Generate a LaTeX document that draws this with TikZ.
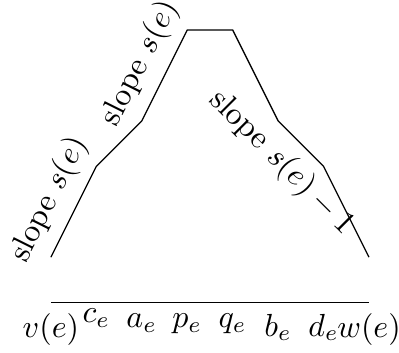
\documentclass[tikz,border=0pt]{standalone}
\usepackage{amsmath,amssymb}
\usepackage{tikz}
\usetikzlibrary{calc}

\begin{document}
\begin{tikzpicture}[x=0.5cm,y=0.5cm]
        % Ламана: нахили 2, 1, 2, 0, -2, -1, -2.
        % Вісь на висоті -1.
        \useasboundingbox (-1.12,-2.09) rectangle (7.66,5.66);

        \coordinate (V) at (0,0);
        \coordinate (C) at (1,2);
        \coordinate (A) at (2,3);
        \coordinate (P) at (3,5);
        \coordinate (Q) at (4,5);
        \coordinate (B) at (5,3);
        \coordinate (D) at (6,2);
        \coordinate (W) at (7,0);

        \draw (V) -- node[sloped,above] (s1) {slope $s(e)$} (C) -- (A)
              -- node[sloped,above] (s2) {slope $s(e)$} (P) -- (Q) -- (B)
              -- node[sloped,below] (s3) {slope $s(e)-1$} (D) -- (W);

        % Вісь
        \coordinate (L) at (0,-1);
        \coordinate (R) at (7,-1);
        \draw (L) -- (R);

        \node[below] (v) at (0,-1) {$v(e)$};
        \node[below,yshift=1.5pt] (c) at (1,-1) {$c_e$};
        \node[below] (a) at (2,-1) {$a_e$};
        \node[below] (p) at (3,-1) {$p_e$};
        \node[below] (q) at (4,-1) {$q_e$};
        \node[below] (b) at (5,-1) {$b_e$};
        \node[below] (d) at (6,-1) {$d_e$};
        \node[below] (w) at (7,-1) {$w(e)$};
    \end{tikzpicture}
\end{document}
